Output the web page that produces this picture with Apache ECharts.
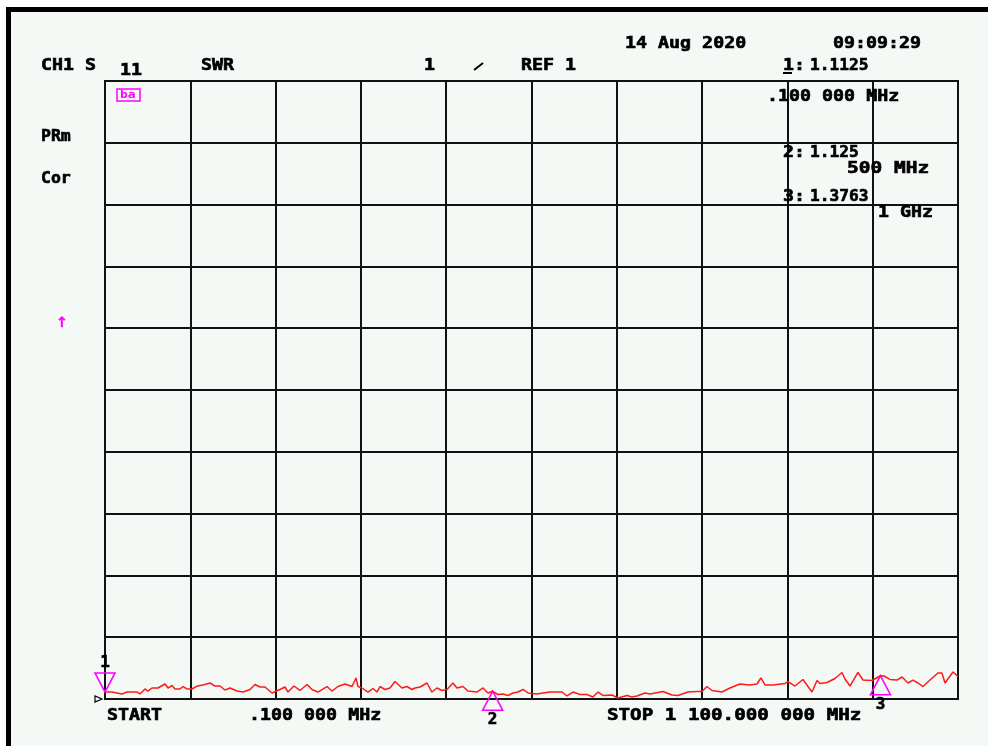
<!DOCTYPE html>
<html>
<head>
<meta charset="utf-8">
<script src="https://cdn.jsdelivr.net/npm/echarts@6/dist/echarts.min.js"></script>
<style>
html,body{margin:0;padding:0;background:#fff;}
#chart{width:988px;height:746px;}
</style>
</head>
<body>
<div id="chart"></div>
<script>
// Frequency (MHz) of each trace sample
const freqMHz = [
  0.1, 9.1, 22.0, 28.5, 41.4, 45.2, 51.7, 55.5, 60.7, 68.4,
  77.5, 81.3, 86.5, 90.4, 96.8, 100.7, 105.8, 112.3, 118.7, 126.5,
  135.5, 141.9, 148.4, 154.8, 161.3, 170.3, 178.0, 187.1, 193.5, 199.9,
  206.4, 215.4, 225.7, 232.2, 236.1, 243.8, 251.5, 260.6, 267.0, 274.7,
  286.3, 292.8, 300.5, 309.6, 318.6, 323.7, 326.3, 331.5, 339.2, 345.7,
  350.8, 354.7, 361.1, 367.6, 374.0, 383.1, 389.5, 396.0, 399.8, 406.3,
  415.3, 421.7, 428.2, 434.6, 441.1, 448.8, 453.9, 461.7, 468.1, 479.7,
  487.5, 493.9, 500.0, 506.8, 513.3, 519.7, 526.2, 532.6, 539.1, 545.5,
  557.1, 564.9, 573.9, 582.9, 589.4, 595.8, 603.5, 612.6, 621.6, 629.3,
  635.8, 642.2, 653.8, 661.6, 673.2, 679.6, 686.1, 696.4, 702.8, 719.6,
  731.2, 738.9, 751.8, 763.4, 769.8, 776.3, 782.7, 795.6, 805.9, 818.8,
  831.7, 840.8, 845.9, 851.1, 861.4, 876.9, 880.8, 889.8, 900.1, 911.7,
  918.2, 922.0, 931.1, 941.4, 950.4, 954.3, 960.7, 971.0, 977.5, 989.1,
  1000.0, 1004.5, 1012.3, 1021.3, 1027.8, 1035.5, 1042.0, 1048.4, 1054.9, 1063.9,
  1074.2, 1079.3, 1083.2, 1093.5, 1100.0
];
// SWR value of each trace sample
const swr = [
  1.113, 1.113, 1.081, 1.113, 1.113, 1.081, 1.162, 1.129, 1.178, 1.178,
  1.243, 1.178, 1.218, 1.162, 1.162, 1.202, 1.162, 1.162, 1.210, 1.227,
  1.259, 1.210, 1.210, 1.146, 1.178, 1.129, 1.113, 1.154, 1.235, 1.194,
  1.194, 1.097, 1.154, 1.194, 1.113, 1.210, 1.138, 1.235, 1.154, 1.113,
  1.202, 1.129, 1.202, 1.243, 1.202, 1.340, 1.202, 1.178, 1.113, 1.170,
  1.113, 1.202, 1.154, 1.178, 1.283, 1.178, 1.202, 1.154, 1.178, 1.194,
  1.259, 1.113, 1.178, 1.138, 1.154, 1.259, 1.178, 1.202, 1.129, 1.113,
  1.178, 1.097, 1.125, 1.073, 1.081, 1.057, 1.097, 1.113, 1.154, 1.097,
  1.081, 1.097, 1.113, 1.113, 1.113, 1.049, 1.113, 1.073, 1.073, 1.032,
  1.113, 1.057, 1.065, 1.016, 1.057, 1.032, 1.049, 1.097, 1.081, 1.121,
  1.065, 1.057, 1.113, 1.121, 1.121, 1.202, 1.138, 1.113, 1.178, 1.243,
  1.227, 1.243, 1.340, 1.227, 1.227, 1.251, 1.283, 1.210, 1.316, 1.113,
  1.299, 1.251, 1.267, 1.332, 1.429, 1.324, 1.210, 1.429, 1.307, 1.299,
  1.376, 1.372, 1.316, 1.307, 1.356, 1.259, 1.307, 1.259, 1.202, 1.307,
  1.421, 1.421, 1.259, 1.437, 1.364
];
// Markers
const markerNames = ['1', '2', '3'];
const markerFreq = [0.1, 500, 1000];
const markerSwr = [1.1125, 1.125, 1.3763];

// Axis setup (start/stop, reference and scale per division)
const startMHz = 0.1, stopMHz = 1100;
const refValue = 1, scalePerDiv = 1, divisions = 10;

const FONT = 'bold 15px "DejaVu Sans Mono"';
const SX = 1.22;
function T(text, x, y, extra) {
  extra = extra || {};
  const fill = extra.fill || '#000';
  return {
    type: 'text', x: x, y: y, scaleX: extra.sx || SX, z: 100,
    style: { text: text, x: 0, y: 0, fill: fill, font: extra.font || FONT,
             stroke: fill, lineWidth: extra.lw === undefined ? 0.6 : extra.lw,
             align: 'left', verticalAlign: 'middle' }
  };
}

const data = freqMHz.map((f, i) => [f, swr[i]]);

const chart = echarts.init(document.getElementById('chart'));
const option = {
  backgroundColor: '#f5f9f6',
  animation: false,
  grid: { left: 105, top: 81, width: 853, height: 618, show: true,
          borderColor: '#111', borderWidth: 2, backgroundColor: 'transparent' },
  xAxis: [
    { type: 'value', min: startMHz, max: stopMHz, show: false },
    { type: 'value', min: 0, max: divisions, interval: 1, position: 'bottom',
      axisLine: { show: false }, axisTick: { show: false }, axisLabel: { show: false },
      splitLine: { show: true, lineStyle: { color: '#111', width: 2 } } }
  ],
  yAxis: [
    { type: 'value', min: refValue, max: refValue + scalePerDiv * divisions, interval: scalePerDiv,
      axisLine: { show: false }, axisTick: { show: false }, axisLabel: { show: false },
      splitLine: { show: true, lineStyle: { color: '#111', width: 2 } } }
  ],
  series: [{
    type: 'line', xAxisIndex: 0, yAxisIndex: 0, data: data, showSymbol: false,
    lineStyle: { color: '#ff1a1a', width: 1.5 }, z: 5,
    markPoint: {
      symbolSize: [20, 19],
      itemStyle: { color: 'rgba(0,0,0,0)', borderColor: '#ff00ff', borderWidth: 1.6 },
      label: { show: true, formatter: '{b}', color: '#000', fontFamily: 'DejaVu Sans Mono',
               fontWeight: 'bold', fontSize: 16, distance: 1,
               textBorderColor: '#000', textBorderWidth: 0.6 },
      data: markerFreq.map((f, i) => ({
        name: markerNames[i], coord: [f, markerSwr[i]],
        symbol: i === 0 ? 'path://M0,0 L20,0 L10,19 Z' : 'path://M10,0 L20,19 L0,19 Z',
        symbolOffset: [0, i === 0 ? -9.5 : 9.5],
        label: { position: i === 0 ? 'top' : 'bottom' }
      }))
    }
  }],
  graphic: [
    { type: 'rect', z: 100, shape: { x: 0, y: 0, width: 988, height: 7 }, style: { fill: '#fff' } },
    { type: 'rect', z: 100, shape: { x: 0, y: 0, width: 6, height: 746 }, style: { fill: '#fff' } },
    { type: 'rect', z: 100, shape: { x: 6, y: 7, width: 982, height: 5 }, style: { fill: '#000' } },
    { type: 'rect', z: 100, shape: { x: 6, y: 7, width: 5, height: 739 }, style: { fill: '#000' } },
    T('CH1 S', 41, 66),
    T('11', 120, 71),
    T('SWR', 201, 66),
    T('1', 424, 66),
    { type: 'line', z: 100, shape: { x1: 474, y1: 70, x2: 483, y2: 63 }, style: { stroke: '#000', lineWidth: 2 } },
    T('REF 1', 521, 66),
    T('14 Aug 2020', 625, 44),
    T('09:09:29', 833, 44),
    T('1:', 783, 66),
    { type: 'line', z: 100, shape: { x1: 783, y1: 73, x2: 792, y2: 73 }, style: { stroke: '#000', lineWidth: 2 } },
    T('1.1125', 810, 66, { sx: 1.08 }),
    T('.100 000 MHz', 767, 97),
    T('2:', 783, 153),
    T('1.125', 810, 153, { sx: 1.08 }),
    T('500 MHz', 847, 169, { sx: 1.3 }),
    T('3:', 783, 197),
    T('1.3763', 810, 197, { sx: 1.08 }),
    T('1 GHz', 878, 213),
    T('PRm', 41, 137, { sx: 1.1 }),
    T('Cor', 41, 179, { sx: 1.1 }),
    T('↑', 56, 323, { fill: '#ff00ff', font: 'bold 14px "DejaVu Sans"', sx: 1, lw: 0.5 }),
    { type: 'rect', z: 100, shape: { x: 117, y: 89, width: 23, height: 12 },
      style: { fill: 'none', stroke: '#ff00ff', lineWidth: 1.5 } },
    T('ba', 120, 95, { fill: '#ff00ff', font: 'bold 10px "DejaVu Sans Mono"', sx: 1.3, lw: 0 }),
    { type: 'polygon', z: 100, shape: { points: [[95, 696], [95, 702], [102, 699]] },
      style: { fill: 'none', stroke: '#000', lineWidth: 1.2 } },
    T('START', 107, 716),
    T('.100 000 MHz', 249, 716),
    T('STOP 1 100.000 000 MHz', 607, 716, { sx: 1.28 })
  ]
};
chart.setOption(option);
</script>
</body>
</html>
